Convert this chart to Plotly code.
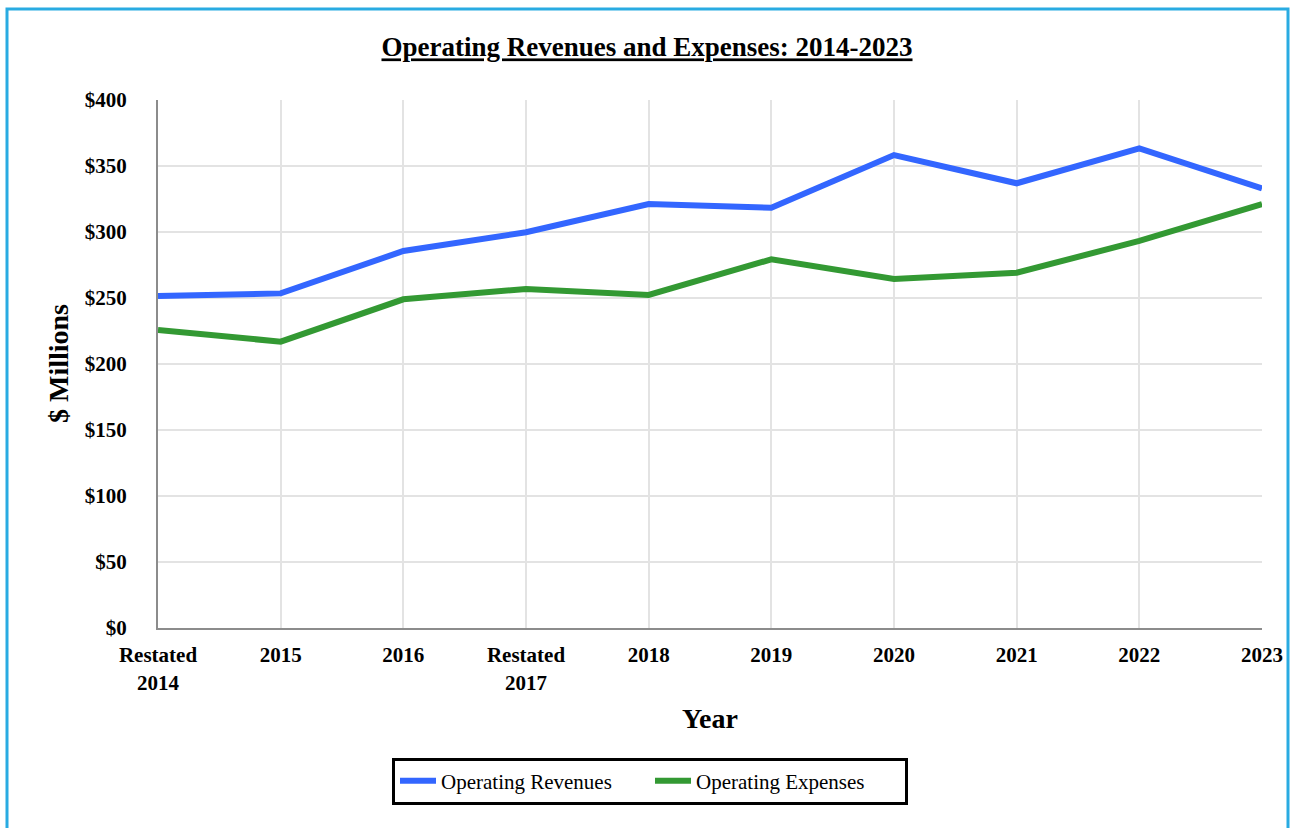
import plotly.graph_objects as go

categories = ["Restated<br>2014", "2015", "2016", "Restated<br>2017", "2018",
              "2019", "2020", "2021", "2022", "2023"]
revenues = [251.5, 253.5, 285.6, 299.8, 321.2, 318.4, 358.3, 336.9, 363.4, 333.0]
expenses = [225.8, 216.9, 249.0, 256.8, 252.3, 279.3, 264.4, 269.2, 293.2, 321.2]
y_ticks = [0, 50, 100, 150, 200, 250, 300, 350, 400]
y_tick_labels = ["$0", "$50", "$100", "$150", "$200", "$250", "$300", "$350", "$400"]

FONT = "Liberation Serif"
W, H = 1290, 828
L, R, T, B = 158, 28, 100, 200
pw, ph = W - L - R, H - T - B

def px_x(x):
    return (x - L) / pw

def px_y(y):
    return (H - B - y) / ph

fig = go.Figure()
fig.add_trace(go.Scatter(x=categories, y=revenues, mode="lines", name="Operating Revenues",
                         line=dict(color="#3366ff", width=6)))
fig.add_trace(go.Scatter(x=categories, y=expenses, mode="lines", name="Operating Expenses",
                         line=dict(color="#339933", width=6)))

fig.update_layout(
    width=W, height=H,
    margin=dict(l=L, r=R, t=T, b=B, autoexpand=False),
    paper_bgcolor="white", plot_bgcolor="white",
    font=dict(family=FONT, color="black"),
    title=dict(text="<b><u>Operating Revenues and Expenses: 2014-2023</u></b>",
               x=px_x(647), xref="paper", xanchor="center",
               y=1 - 47 / H, yref="container", yanchor="middle",
               font=dict(family=FONT, size=27, color="black")),
    xaxis=dict(type="category", range=[0, 9], showgrid=True, gridcolor="#e3e3e3", gridwidth=2,
               showline=True, linecolor="#8c8c8c", linewidth=2, automargin=False,
               ticks="outside", ticklen=7, tickcolor="rgba(0,0,0,0)",
               tickfont=dict(family=FONT, size=21, color="black", weight="bold"),
               zeroline=False, fixedrange=True),
    yaxis=dict(range=[0, 400], tickvals=y_ticks, ticktext=y_tick_labels,
               showgrid=True, gridcolor="#e3e3e3", gridwidth=2,
               showline=True, linecolor="#8c8c8c", linewidth=2, automargin=False,
               ticks="outside", ticklen=25, tickcolor="rgba(0,0,0,0)",
               tickfont=dict(family=FONT, size=21, color="black", weight="bold"),
               zeroline=False, fixedrange=True),
    showlegend=True,
    legend=dict(orientation="h", x=px_x(650), xanchor="center", y=px_y(781), yanchor="middle",
                bordercolor="black", borderwidth=3, bgcolor="white",
                font=dict(family=FONT, size=21, color="black"),
                entrywidth=204, entrywidthmode="pixels", itemwidth=36),
    annotations=[
        dict(text="<b>$ Millions</b>", x=px_x(58), y=px_y(364), xref="paper", yref="paper",
             textangle=-90, showarrow=False, xanchor="center", yanchor="middle",
             font=dict(family=FONT, size=28, color="black")),
        dict(text="<b>Year</b>", x=px_x(710), y=px_y(718), xref="paper", yref="paper",
             showarrow=False, xanchor="center", yanchor="middle",
             font=dict(family=FONT, size=28, color="black")),
    ],
    shapes=[
        dict(type="rect", xref="paper", yref="paper",
             x0=px_x(7), x1=px_x(1288), y0=px_y(860), y1=px_y(9),
             line=dict(color="#29abe2", width=3), fillcolor="rgba(0,0,0,0)", layer="below"),
    ],
)

fig.write_html("out.html", config={"displayModeBar": False},
               post_script="document.body.style.margin='0';document.body.style.overflow='hidden';")
